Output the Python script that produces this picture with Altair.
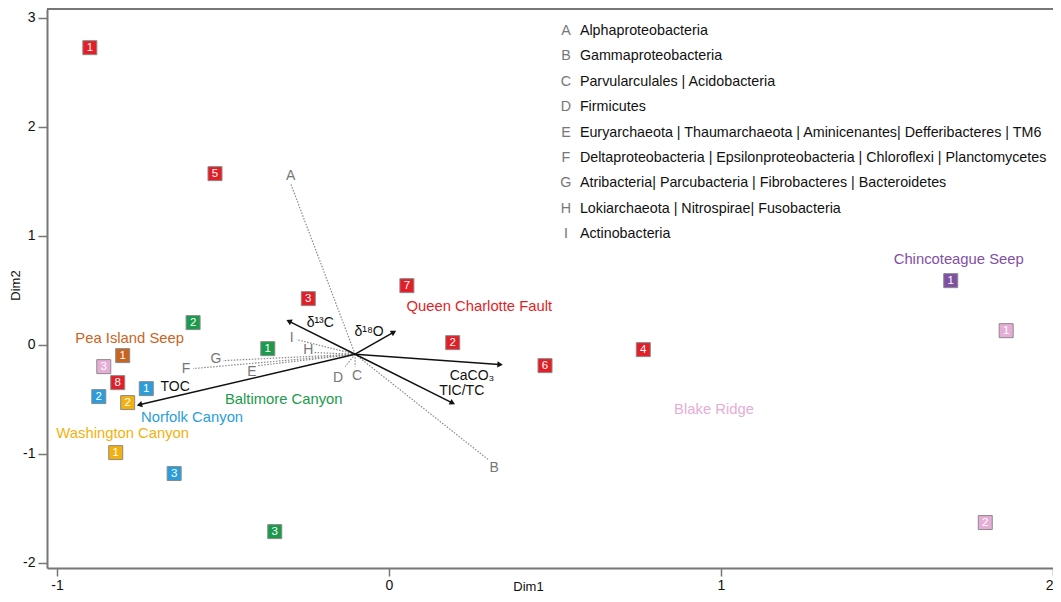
import math
import altair as alt
import pandas as pd

# ---------------- data ----------------
pt_site = (["Queen Charlotte Fault"] * 8 + ["Baltimore Canyon"] * 3 + ["Pea Island Seep"]
           + ["Blake Ridge"] * 3 + ["Norfolk Canyon"] * 3 + ["Washington Canyon"] * 2
           + ["Chincoteague Seep"])
pt_num = [1, 2, 3, 4, 5, 6, 7, 8,
          1, 2, 3,
          1,
          1, 2, 3,
          1, 2, 3,
          1, 2,
          1]
pt_x = [-0.901, 0.192, -0.243, 0.766, -0.524, 0.470, 0.054, -0.817,
        -0.365, -0.590, -0.344,
        -0.802,
        1.859, 1.796, -0.859,
        -0.731, -0.874, -0.647,
        -0.823, -0.787,
        1.692]
pt_y = [2.725, 0.018, 0.422, -0.046, 1.569, -0.193, 0.541, -0.349,
        -0.037, 0.202, -1.716,
        -0.101,
        0.128, -1.633, -0.202,
        -0.404, -0.477, -1.183,
        -0.991, -0.532,
        0.587]

site_names = ["Queen Charlotte Fault", "Baltimore Canyon", "Pea Island Seep", "Blake Ridge",
              "Norfolk Canyon", "Washington Canyon", "Chincoteague Seep"]
site_colors = ["#e31e26", "#1a9b4b", "#c8641f", "#e6add6", "#2a9dda", "#f2b10f", "#7f50a3"]
site_lx = [0.272, -0.317, -0.781, 0.979, -0.593, -0.802, 1.716]
site_ly = [0.349, -0.505, 0.055, -0.596, -0.670, -0.817, 0.780]

origin_x, origin_y = -0.102, -0.088

env_names = ["TOC", "δ¹³C", "δ¹⁸O", "CaCO₃", "TIC/TC"]
env_x = [-0.749, -0.299, 0.012, 0.332, 0.189]
env_y = [-0.550, 0.211, 0.110, -0.183, -0.532]
env_lx = [-0.644, -0.207, -0.060, 0.250, 0.219]
env_ly = [-0.385, 0.202, 0.119, -0.285, -0.425]

bac_letters = ["A", "B", "C", "D", "E", "F", "G", "H", "I"]
bac_x = [-0.296, 0.299, -0.102, -0.132, -0.395, -0.590, -0.500, -0.225, -0.278]
bac_y = [1.477, -1.055, -0.202, -0.202, -0.193, -0.220, -0.147, -0.073, 0.046]
bac_lx = [-0.296, 0.317, -0.096, -0.153, -0.413, -0.611, -0.521, -0.243, -0.293]
bac_ly = [1.550, -1.128, -0.284, -0.303, -0.248, -0.220, -0.128, -0.046, 0.064]
bac_names = ["Alphaproteobacteria",
             "Gammaproteobacteria",
             "Parvularculales | Acidobacteria",
             "Firmicutes",
             "Euryarchaeota | Thaumarchaeota | Aminicenantes| Defferibacteres | TM6",
             "Deltaproteobacteria | Epsilonproteobacteria  | Chloroflexi | Planctomycetes",
             "Atribacteria| Parcubacteria | Fibrobacteres | Bacteroidetes",
             "Lokiarchaeota | Nitrospirae| Fusobacteria",
             "Actinobacteria"]
legend_letter_x = 0.533
legend_name_x = 0.575

x_ticks = [-1, 0, 1, 2]
y_ticks = [-2, -1, 0, 1, 2, 3]

# ---------------- layout ----------------
W, H = 1006, 559
X_DOM = [-1.03, 2.0]
Y_DOM = [-2.05, 3.08]
FONT = "Liberation Sans"

px_x = W / (X_DOM[1] - X_DOM[0])
px_y = H / (Y_DOM[1] - Y_DOM[0])

pts = pd.DataFrame({"site": pt_site, "num": [str(n) for n in pt_num], "x": pt_x, "y": pt_y})
sites = pd.DataFrame({"site": site_names, "x": site_lx, "y": site_ly})

angles = []
for ex, ey in zip(env_x, env_y):
    dx = (ex - origin_x) * px_x
    dy = -(ey - origin_y) * px_y
    angles.append(math.degrees(math.atan2(dx, -dy)) % 360)
env = pd.DataFrame({"name": env_names, "ox": origin_x, "oy": origin_y, "ex": env_x, "ey": env_y,
                    "lx": env_lx, "ly": env_ly, "ang": angles})
bac = pd.DataFrame({"letter": bac_letters, "ox": origin_x, "oy": origin_y, "ex": bac_x, "ey": bac_y,
                    "lx": bac_lx, "ly": bac_ly})
leg = pd.DataFrame({"letter": bac_letters, "name": bac_names,
                    "lx": legend_letter_x, "nx": legend_name_x})

xs = alt.Scale(domain=X_DOM, nice=False, zero=False)
ys = alt.Scale(domain=Y_DOM, nice=False, zero=False)
cs = alt.Scale(domain=site_names, range=site_colors)

x_axis = alt.Axis(values=x_ticks, labelExpr="'' + datum.value", grid=False,
                  labelFontSize=14, labelColor="#111", labelFont=FONT, labelFlush=True,
                  labelPadding=2, tickSize=8, tickWidth=1.5, tickColor="#777",
                  domainColor="#777", domainWidth=2,
                  title="Dim1", titleFont=FONT, titleFontSize=13, titleFontWeight="normal",
                  titleColor="#111", titleX=481, titleY=18, titleBaseline="middle")
y_axis = alt.Axis(values=y_ticks, labelExpr="'' + datum.value", grid=False,
                  labelFontSize=14, labelColor="#111", labelFont=FONT,
                  labelPadding=3, tickSize=9, tickWidth=1.5, tickColor="#777",
                  domainColor="#777", domainWidth=2,
                  title="Dim2", titleFont=FONT, titleFontSize=13, titleFontWeight="normal",
                  titleColor="#111", titleX=-32, titleY=276, titleBaseline="middle",
                  titleAngle=270, titleAlign="center")

top_line = alt.Chart(pd.DataFrame({"y": [Y_DOM[1]]})).mark_rule(color="#777", strokeWidth=2).encode(
    y=alt.Y("y:Q", scale=ys, axis=y_axis), x=alt.value(0), x2=alt.value(W))

bac_lines = alt.Chart(bac).mark_rule(color="#8a8a8a", strokeWidth=1.2, strokeDash=[1.5, 1.5]).encode(
    x=alt.X("ox:Q", scale=xs, axis=x_axis), y=alt.Y("oy:Q", scale=ys), x2="ex:Q", y2="ey:Q")
bac_text = alt.Chart(bac).mark_text(color="#777", fontSize=14, font=FONT).encode(
    x=alt.X("lx:Q", scale=xs), y=alt.Y("ly:Q", scale=ys), text="letter:N")

env_lines = alt.Chart(env).mark_rule(color="#111", strokeWidth=1.5).encode(
    x=alt.X("ox:Q", scale=xs), y=alt.Y("oy:Q", scale=ys), x2="ex:Q", y2="ey:Q")
env_heads = alt.Chart(env).mark_point(shape="triangle", filled=True, color="#111", size=40, opacity=1).encode(
    x=alt.X("ex:Q", scale=xs), y=alt.Y("ey:Q", scale=ys), angle=alt.Angle("ang:Q", scale=None))
env_text = alt.Chart(env).mark_text(color="#111", fontSize=14, font=FONT).encode(
    x=alt.X("lx:Q", scale=xs), y=alt.Y("ly:Q", scale=ys), text="name:N")

squares = alt.Chart(pts).mark_square(size=196, filled=True, opacity=1, stroke="#8a8a8a", strokeWidth=1).encode(
    x=alt.X("x:Q", scale=xs), y=alt.Y("y:Q", scale=ys), color=alt.Color("site:N", scale=cs, legend=None))
nums = alt.Chart(pts).mark_text(color="white", fontSize=11.5, font=FONT, dy=0.5).encode(
    x=alt.X("x:Q", scale=xs), y=alt.Y("y:Q", scale=ys), text="num:N")

site_text = alt.Chart(sites).mark_text(fontSize=14.8, font=FONT).encode(
    x=alt.X("x:Q", scale=xs), y=alt.Y("y:Q", scale=ys), color=alt.Color("site:N", scale=cs, legend=None),
    text="site:N")

main = alt.layer(top_line, bac_lines, bac_text, env_lines, env_heads, env_text,
                 squares, nums, site_text)

row_scale = alt.Scale(type="point", domain=bac_letters, range=[22, 225], padding=0)
leg_letters = alt.Chart(leg).mark_text(color="#777", fontSize=14.3, font=FONT).encode(
    x=alt.X("lx:Q", scale=xs), y=alt.Y("letter:N", scale=row_scale, axis=None), text="letter:N")
leg_names = alt.Chart(leg).mark_text(color="#111", fontSize=14.3, font=FONT, align="left").encode(
    x=alt.X("nx:Q", scale=xs), y=alt.Y("letter:N", scale=row_scale, axis=None), text="name:N")
legend = alt.layer(leg_letters, leg_names)

chart = alt.layer(main, legend).resolve_scale(y="independent").properties(
    width=W, height=H,
    autosize=alt.AutoSizeParams(type="none"),
    padding={"left": 39, "top": 1, "right": 0, "bottom": 26},
    background="white",
).configure_view(stroke=None)

chart.save("out.html", embed_options={"renderer": "svg", "actions": False})
